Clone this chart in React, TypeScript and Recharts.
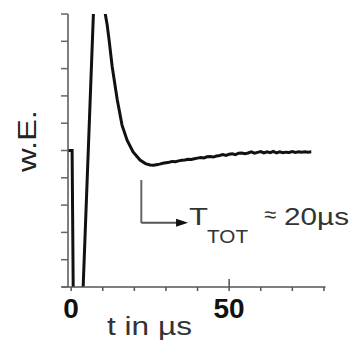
import React from "react";
import { LineChart, Line, XAxis, YAxis, ReferenceLine } from "recharts";

const timeUs = [
  -1, 0.3, 1.2, 8.4, 10.8, 11.4, 12.0, 13.0, 14.6, 16.1, 17.7, 19.6, 21.8, 23.5,
  25, 26, 27, 28, 29, 30, 31, 32, 33, 34, 35, 36, 37, 38, 39, 40, 41, 42, 43, 44,
  45, 46, 47, 48, 49, 50, 51, 52, 53, 54, 55, 56, 57, 58, 59, 60, 61, 62, 63, 64,
  65, 66, 67, 68, 69, 70, 71, 72, 73, 74, 75, 76,
];
const signal = [
  5, 5, -8, 14.2, 10, 9.6, 9.05, 8.06, 6.85, 5.93, 5.38, 4.95, 4.65, 4.52,
  4.47, 4.46, 4.48, 4.5, 4.53, 4.55, 4.57, 4.6, 4.59, 4.62, 4.64, 4.65, 4.68, 4.67, 4.7, 4.72, 4.74, 4.73, 4.77, 4.78,
  4.76, 4.8, 4.82, 4.85, 4.82, 4.86, 4.88, 4.85, 4.9, 4.91, 4.88, 4.91, 4.95, 4.9, 4.93, 4.96, 4.91, 4.95, 4.92, 4.97,
  4.91, 4.95, 4.92, 4.94, 4.93, 4.96, 4.93, 4.95, 4.94, 4.95, 4.94, 4.95,
];
const xTicks = [0, 10, 20, 30, 40, 50, 60, 70, 80];
const xTickLabels = ["0", "50"];
const yTicks = [0, 1, 2, 3, 4, 5, 6, 7, 8, 9, 10];
const yLabel = "w.E.";
const xLabel = "t in µs";
const annotationStart = { t: 22.2, vTop: 3.92, vBottom: 2.35 };
const annotationEnd = 37;

const data = timeUs.map((t, i) => ({ t, v: signal[i] }));

const FONT = "'Liberation Sans', Arial, sans-serif";

const XTick = (props: any) => {
  const { x, y, payload } = props;
  const label = String(payload.value);
  const show = xTickLabels.includes(label);
  return (
    <g>
      {label === "50" && (
        <line x1={x} x2={x} y1={y - 12} y2={y - 4} stroke="#555" strokeWidth={1.5} />
      )}
      {show && (
        <text
          x={x}
          y={y + 27}
          textAnchor="middle"
          fontFamily={FONT}
          fontWeight="bold"
          fontSize={28}
          fill="#111"
        >
          {label}
        </text>
      )}
    </g>
  );
};

const EmptyTick = () => <g />;

const ArrowShape = (props: any) => {
  const { x1, y1, x2, y2 } = props;
  if (x1 == null) return null;
  return (
    <g>
      <line x1={x1} y1={y1} x2={x2 - 8} y2={y2} stroke="#555" strokeWidth={2} />
      <polygon points={`${x2},${y2} ${x2 - 12},${y2 - 4} ${x2 - 12},${y2 + 4}`} fill="#111" />
      <text x={x2 + 1} y={y2 + 2} fontFamily={FONT} fontSize={24} fill="#333" textLength={19} lengthAdjust="spacingAndGlyphs">T</text>
      <text x={x2 + 19} y={y2 + 20} fontFamily={FONT} fontSize={18} fill="#333" textLength={41} lengthAdjust="spacingAndGlyphs">TOT</text>
      <text x={x2 + 76} y={y2 - 1} fontFamily={FONT} fontSize={22} fill="#333">≈</text>
      <text x={x2 + 96} y={y2 + 2} fontFamily={FONT} fontSize={24} fill="#333" textLength={65} lengthAdjust="spacingAndGlyphs">20µs</text>
    </g>
  );
};

export default function App() {
  return (
    <div style={{ position: "absolute", left: 0, top: 0, width: 357, height: 340, background: "#fff" }}>
      <LineChart
        width={357}
        height={340}
        data={data}
        margin={{ top: 14, right: 31.5, bottom: 0, left: 0 }}
      >
        <XAxis
          dataKey="t"
          type="number"
          domain={[-1, 80.5]}
          ticks={xTicks}
          interval={0}
          height={53}
          stroke="#555"
          strokeWidth={1.5}
          tickSize={4}
          tickMargin={0}
          tick={<XTick />}
          label={{
            content: () => (
              <text
                x={107}
                y={335}
                fontFamily={FONT}
                fontSize={25}
                fill="#333"
                textLength={85}
                lengthAdjust="spacingAndGlyphs"
              >
                {xLabel}
              </text>
            ),
          }}
        />
        <YAxis
          type="number"
          domain={[0, 10]}
          ticks={yTicks}
          interval={0}
          allowDataOverflow
          width={68}
          stroke="#555"
          strokeWidth={1.5}
          tickSize={7}
          tickLine={{ stroke: "#666", strokeWidth: 1.5 }}
          tick={EmptyTick}
          label={{
            content: () => (
              <text
                x={36}
                y={141}
                transform="rotate(-90, 36, 141)"
                textAnchor="middle"
                fontFamily={FONT}
                fontSize={25}
                fill="#222"
                textLength={62}
                lengthAdjust="spacingAndGlyphs"
              >
                {yLabel}
              </text>
            ),
          }}
        />
        <ReferenceLine
          segment={[{ x: -3, y: 0 }, { x: -1, y: 0 }]}
          ifOverflow="visible"
          stroke="#555"
          strokeWidth={1.5}
        />
        <ReferenceLine
          segment={[
            { x: annotationStart.t, y: annotationStart.vTop },
            { x: annotationStart.t, y: annotationStart.vBottom },
          ]}
          stroke="#666"
          strokeWidth={2}
        />
        <ReferenceLine
          segment={[
            { x: annotationStart.t, y: annotationStart.vBottom },
            { x: annotationEnd, y: annotationStart.vBottom },
          ]}
          shape={<ArrowShape />}
        />
        <Line
          type="linear"
          dataKey="v"
          stroke="#111"
          strokeWidth={3}
          dot={false}
          isAnimationActive={false}
        />
      </LineChart>
    </div>
  );
}
